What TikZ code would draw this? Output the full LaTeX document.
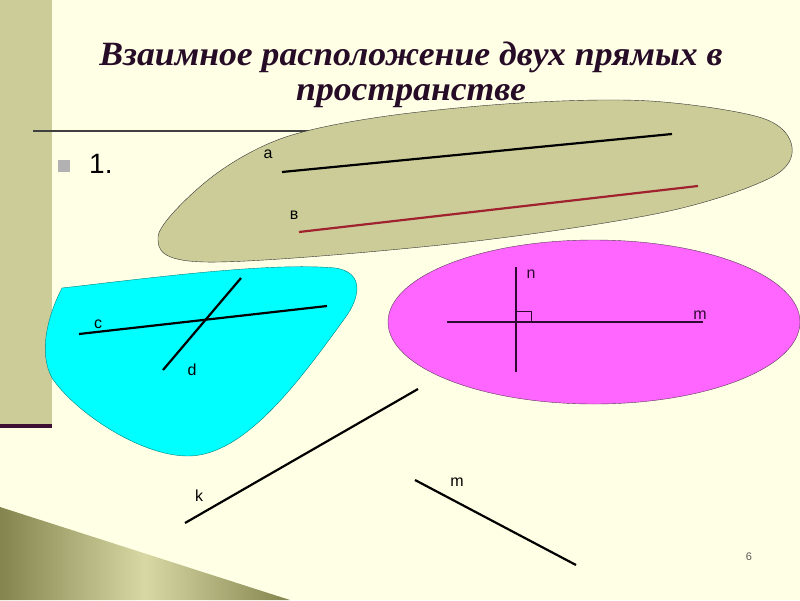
\documentclass[tikz,border=0pt]{standalone}
\usepackage{fontspec}
\setmainfont{Liberation Serif}
\setsansfont{Liberation Sans}
\newfontfamily\titlefont[FakeStretch=1.05]{Liberation Serif}
\definecolor{PageBg}{HTML}{FFFFE6}
\definecolor{BarTan}{HTML}{CCCC99}
\definecolor{BarLine}{HTML}{3C0F33}
\definecolor{TitleInk}{HTML}{260C26}
\definecolor{PlaneOlive}{HTML}{CCCC99}
\definecolor{PlaneCyan}{HTML}{00FFFF}
\definecolor{PlanePink}{HTML}{FF66FF}
\definecolor{PinkInk}{HTML}{2E0A30}
\definecolor{LineRed}{HTML}{A0222E}
\definecolor{ShadeDark}{HTML}{84844F}
\definecolor{ShadeLight}{HTML}{D8D8A4}
\begin{document}
\begin{tikzpicture}[x=1pt,y=-1pt]
  \tikzset{PlaneStyle/.style = {thin,
                                draw          = black!80}}
  \tikzset{LineStyle/.style  = {line width    = 2.2pt,
                                draw          = black}}
  \tikzset{LineStyleRed/.style = {LineStyle,
                                draw          = LineRed}}
  \tikzset{LineStylePink/.style = {LineStyle,
                                line width    = 2pt,
                                draw          = PinkInk}}
  \tikzset{LabelStyle/.style = {inner sep     = 0pt,
                                font          = \sffamily\fontsize{16}{18}\selectfont}}
  \tikzset{TitleStyle/.style = {anchor        = base,
                                text          = TitleInk,
                                font          = \titlefont\fontsize{34}{36}\selectfont\bfseries\itshape}}
%                                text          = black}}

\useasboundingbox (0,0) rectangle (800,600);
\fill[PageBg] (0,0) rectangle (800,600);
\fill[BarTan] (0,0) rectangle (52,425);
\fill[BarLine] (0,424) rectangle (52,428);

\node[TitleStyle] (Title1) at (411,65) {Взаимное расположение двух прямых в};
\node[TitleStyle] (Title2) at (411,100) {пространстве};
\draw[black!75,line width=1.3pt] (33,131) -- (330,131);

\fill[black!30] (58,160) rectangle (70,172);
\node[anchor=base west,inner sep=0pt,font=\sffamily\fontsize{28}{30}\selectfont] (Item1) at (89,173) {1.};

\coordinate (A1) at (282,172);
\coordinate (A2) at (672,134);
\coordinate (B1) at (299,232);
\coordinate (B2) at (698,186);
\coordinate (C1) at (79,334);
\coordinate (C2) at (327,306);
\coordinate (D1) at (163,370);
\coordinate (D2) at (241,278);
\coordinate (M1) at (447,322);
\coordinate (M2) at (703,322);
\coordinate (N1) at (516,267);
\coordinate (N2) at (516,372);
\coordinate (K1) at (185,523);
\coordinate (K2) at (418,389);
\coordinate (P1) at (415,480);
\coordinate (P2) at (576,565);

\draw[PlaneStyle,fill=PlaneOlive] plot[smooth cycle,tension=0.55] coordinates
  {(158,237) (205,262) (450,244) (660,213) (770,178) (792,147)
   (762,118) (650,101) (520,103) (380,117) (280,139) (208,180)};
\draw[PlaneStyle,draw=teal,fill=PlaneCyan] (62,288)
  .. controls (150,278) and (270,262) .. (335,268)
  .. controls (365,272) and (360,298) .. (345,318)
  .. controls (300,380) and (245,456) .. (188,456)
  .. controls (140,456) and (75,412) .. (52,378)
  .. controls (38,352) and (48,315) .. (62,288) -- cycle;
\draw[PlaneStyle,draw=PinkInk!80,fill=PlanePink] (594,322) ellipse [x radius=206,y radius=82];

\draw[LineStyle] (A1) -- (A2);
\draw[LineStyleRed] (B1) -- (B2);
\draw[LineStyle] (C1) -- (C2);
\draw[LineStyle] (D1) -- (D2);
\draw[LineStylePink] (M1) -- (M2);
\draw[LineStylePink] (N1) -- (N2);
\draw[PinkInk,thin] (516,311) -- (531,311) -- (531,322);
\draw[LineStyle] (K1) -- (K2);
\draw[LineStyle] (P1) -- (P2);

\node[LabelStyle] (LabA) at (268,154) {а};
\node[LabelStyle] (LabB) at (294,215) {в};
\node[LabelStyle] (LabC) at (98,324) {c};
\node[LabelStyle] (LabD) at (192,370) {d};
\node[LabelStyle,text=PinkInk] (LabN) at (531,274) {n};
\node[LabelStyle,text=PinkInk] (LabM) at (700,315) {m};
\node[LabelStyle] (LabK) at (199,496) {k};
\node[LabelStyle] (LabP) at (457,482) {m};

\shade[left color=ShadeDark,right color=ShadeDark,middle color=ShadeLight] (0,507) -- (290,600) -- (0,600) -- cycle;
\node[inner sep=0pt,text=black!65,font=\sffamily\fontsize{11}{12}\selectfont] (PageNo) at (749,557) {6};

\end{tikzpicture}
\end{document}
